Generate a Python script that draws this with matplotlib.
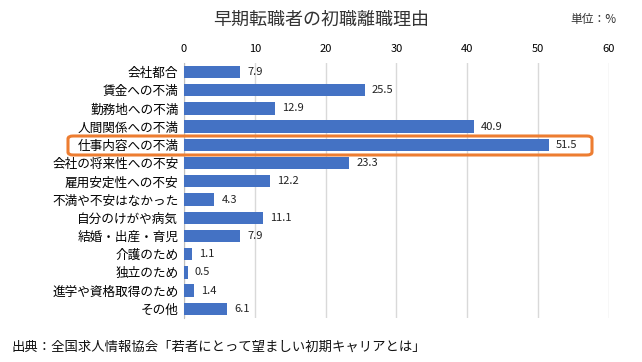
import matplotlib.pyplot as plt
from matplotlib.patches import FancyBboxPatch

plt.rcParams['font.family'] = ['Noto Sans CJK JP', 'DejaVu Sans']

# 離職理由と割合（%）
reasons = ["会社都合", "賃金への不満", "勤務地への不満", "人間関係への不満", "仕事内容への不満",
           "会社の将来性への不安", "雇用安定性への不安", "不満や不安はなかった", "自分のけがや病気",
           "結婚・出産・育児", "介護のため", "独立のため", "進学や資格取得のため", "その他"]
values = [7.9, 25.5, 12.9, 40.9, 51.5, 23.3, 12.2, 4.3, 11.1, 7.9, 1.1, 0.5, 1.4, 6.1]
xticks = [0, 10, 20, 30, 40, 50, 60]
highlight = "仕事内容への不満"

fig = plt.figure(figsize=(6.42, 3.62), dpi=100)
ax = fig.add_axes([0.2866, 0.1215, 0.662, 0.705])

y = list(range(len(reasons)))
ax.barh(y, values, height=0.68, color="#4472C4", zorder=3)
for yi, v in zip(y, values):
    ax.text(v + 1.0, yi, f"{v}", va="center", ha="left", fontsize=8, color="#222222", zorder=4)

ax.set_ylim(len(reasons) - 0.5, -0.5)
ax.set_xlim(0, 60)
ax.set_yticks(y)
ax.set_yticklabels(reasons, fontsize=9.1)
ax.xaxis.tick_top()
ax.set_xticks(xticks)
ax.set_xticklabels([str(t) for t in xticks], fontsize=8)
ax.tick_params(length=0, pad=6)
ax.tick_params(axis='y', pad=4)
ax.grid(axis='x', color="#D9D9D9", linewidth=1, zorder=0)
for s in ["top", "right", "bottom"]:
    ax.spines[s].set_visible(False)
ax.spines["left"].set_color("#BFBFBF")

# 強調枠
box = FancyBboxPatch((68 / 642, 1 - 155 / 362), (592 - 68) / 642, 19 / 362,
                     boxstyle="round,pad=0,rounding_size=0.008",
                     transform=fig.transFigure, fill=False,
                     edgecolor="#ED7D31", linewidth=2.2, zorder=10)
fig.patches.append(box)

fig.text(0.5, 1 - 20 / 362, "早期転職者の初職離職理由", ha="center", va="center", fontsize=13, color="#333333")
fig.text(0.925, 1 - 20 / 362, "単位：%", ha="center", va="center", fontsize=8.5, color="#333333")
fig.text(12 / 642, 1 - 347 / 362, "出典：全国求人情報協会「若者にとって望ましい初期キャリアとは」",
         ha="left", va="center", fontsize=9.6, color="#111111")

fig.savefig("out.png", dpi=100)
